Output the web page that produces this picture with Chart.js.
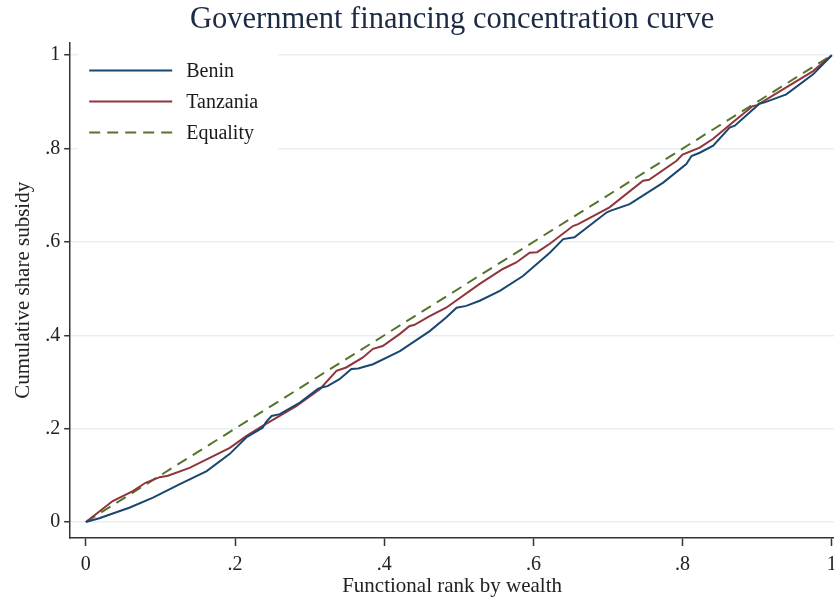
<!DOCTYPE html>
<html>
<head>
<meta charset="utf-8">
<title>Government financing concentration curve</title>
<script src="https://cdn.jsdelivr.net/npm/chart.js@4.4.1/dist/chart.umd.min.js"></script>
<style>
  html, body { margin: 0; padding: 0; background: #fff; }
  #wrap { width: 834px; height: 597px; }
</style>
</head>
<body>
<div id="wrap"><canvas id="concCurve" width="834" height="597"></canvas></div>
<script>
// --- donnees : rang fonctionnel (x) et part cumulee de la subvention (y) ---
const beninRank = [0, 0.018, 0.059, 0.09, 0.126, 0.162, 0.193, 0.215, 0.237, 0.242, 0.249, 0.26, 0.287,
  0.311, 0.316, 0.324, 0.34, 0.356, 0.365, 0.385, 0.421, 0.461, 0.483, 0.497, 0.51, 0.528, 0.555, 0.586,
  0.622, 0.64, 0.655, 0.698, 0.702, 0.729, 0.774, 0.805, 0.812, 0.823, 0.841, 0.863, 0.87, 0.903, 0.91,
  0.939, 0.975, 1];
const beninShare = [0, 0.008, 0.031, 0.052, 0.081, 0.109, 0.146, 0.181, 0.202, 0.215, 0.227, 0.231, 0.256,
  0.285, 0.288, 0.291, 0.306, 0.328, 0.329, 0.338, 0.366, 0.409, 0.438, 0.459, 0.463, 0.474, 0.495, 0.527,
  0.577, 0.606, 0.61, 0.663, 0.666, 0.681, 0.727, 0.767, 0.784, 0.791, 0.806, 0.845, 0.849, 0.896, 0.899,
  0.916, 0.959, 1];

const tanzaniaRank = [0, 0.036, 0.063, 0.08, 0.099, 0.11, 0.139, 0.193, 0.215, 0.237, 0.282, 0.314, 0.336,
  0.349, 0.371, 0.385, 0.398, 0.421, 0.434, 0.44, 0.461, 0.483, 0.528, 0.559, 0.577, 0.595, 0.605, 0.622,
  0.653, 0.66, 0.702, 0.747, 0.755, 0.792, 0.8, 0.823, 0.841, 0.867, 0.894, 0.9, 0.939, 0.975, 1];
const tanzaniaShare = [0, 0.045, 0.066, 0.084, 0.096, 0.099, 0.116, 0.159, 0.184, 0.206, 0.248, 0.285, 0.324,
  0.331, 0.352, 0.371, 0.377, 0.403, 0.42, 0.422, 0.441, 0.459, 0.51, 0.542, 0.556, 0.577, 0.578, 0.596,
  0.634, 0.638, 0.674, 0.731, 0.733, 0.774, 0.787, 0.802, 0.821, 0.856, 0.891, 0.893, 0.931, 0.966, 1];

const equalityRank = [0, 1];
const equalityShare = [0, 1];

const tickValues = [0, 0.2, 0.4, 0.6, 0.8, 1];

const FONT = '"Liberation Serif", "DejaVu Serif", serif';

function toPoints(xs, ys) {
  return xs.map((x, i) => ({ x: x, y: ys[i] }));
}

// format Stata : 0, .2, .4 ... 1
function fmtTick(v) {
  if (v === 0) return '0';
  if (v === 1) return '1';
  return '.' + Math.round(v * 10);
}

// legende dans le coin haut-gauche, fond blanc par-dessus la grille
const legendeInterne = {
  id: 'legendeInterne',
  beforeDatasetsDraw(chart) {
    const { ctx, chartArea } = chart;
    const left = chartArea.left + 8;
    const top = chartArea.top + 8;
    ctx.save();
    ctx.fillStyle = '#ffffff';
    ctx.fillRect(left, top, 200, 106);
    ctx.font = '20px ' + FONT;
    ctx.textBaseline = 'middle';
    chart.data.datasets.forEach((ds, i) => {
      const y = top + 20 + i * 31;
      ctx.beginPath();
      ctx.setLineDash(ds.borderDash || []);
      ctx.strokeStyle = ds.borderColor;
      ctx.lineWidth = ds.borderWidth;
      ctx.moveTo(left + 11, y);
      ctx.lineTo(left + 94, y);
      ctx.stroke();
      ctx.setLineDash([]);
      ctx.fillStyle = '#1a1a1a';
      ctx.fillText(ds.label, left + 108, y + 1);
    });
    ctx.restore();
  }
};

const ctx = document.getElementById('concCurve').getContext('2d');
new Chart(ctx, {
  type: 'scatter',
  data: {
    datasets: [
      {
        label: 'Benin',
        data: toPoints(beninRank, beninShare),
        showLine: true,
        borderColor: '#1a476f',
        borderWidth: 2,
        pointRadius: 0,
        tension: 0
      },
      {
        label: 'Tanzania',
        data: toPoints(tanzaniaRank, tanzaniaShare),
        showLine: true,
        borderColor: '#90353b',
        borderWidth: 2,
        pointRadius: 0,
        tension: 0
      },
      {
        label: 'Equality',
        data: toPoints(equalityRank, equalityShare),
        showLine: true,
        borderColor: '#55752f',
        borderWidth: 2,
        borderDash: [11, 7],
        pointRadius: 0,
        tension: 0
      }
    ]
  },
  options: {
    responsive: false,
    animation: false,
    devicePixelRatio: 1,
    layout: { padding: { top: 2, right: 0, bottom: 0, left: 11 } },
    plugins: {
      legend: { display: false },
      tooltip: { enabled: false },
      title: {
        display: true,
        fullSize: false,
        text: 'Government financing concentration curve',
        color: '#1c2a44',
        font: { family: FONT, size: 30.5, weight: 'normal' },
        padding: { top: 0, bottom: 4 }
      }
    },
    scales: {
      x: {
        type: 'linear',
        min: -0.021,
        max: 1.003,
        afterBuildTicks: axis => { axis.ticks = tickValues.map(v => ({ value: v })); },
        // le graphique va jusqu'au bord droit, sans marge pour le dernier libelle
        afterFit: axis => { axis.paddingRight = 0; },
        border: { color: '#333', width: 1.5 },
        grid: { drawOnChartArea: false, tickLength: 8, tickColor: '#333', tickWidth: 1.5 },
        ticks: {
          color: '#222',
          font: { family: FONT, size: 20, lineHeight: 1 },
          padding: 9,
          maxRotation: 0,
          callback: v => fmtTick(v)
        },
        title: {
          display: true,
          text: 'Functional rank by wealth',
          color: '#222',
          font: { family: FONT, size: 21, lineHeight: 1 },
          padding: { top: -8, bottom: 0 }
        }
      },
      y: {
        type: 'linear',
        min: -0.0343,
        max: 1.027,
        afterBuildTicks: axis => { axis.ticks = tickValues.map(v => ({ value: v })); },
        border: { color: '#333', width: 1.5 },
        grid: { color: '#e8eff2', lineWidth: 1.5, tickLength: 6, tickColor: '#333', tickWidth: 1.5 },
        ticks: {
          color: '#222',
          font: { family: FONT, size: 20 },
          padding: 4,
          callback: v => fmtTick(v)
        },
        title: {
          display: true,
          text: 'Cumulative share subsidy',
          color: '#222',
          font: { family: FONT, size: 21 },
          padding: { top: 0, bottom: 5 }
        }
      }
    }
  },
  plugins: [legendeInterne]
});
</script>
</body>
</html>
